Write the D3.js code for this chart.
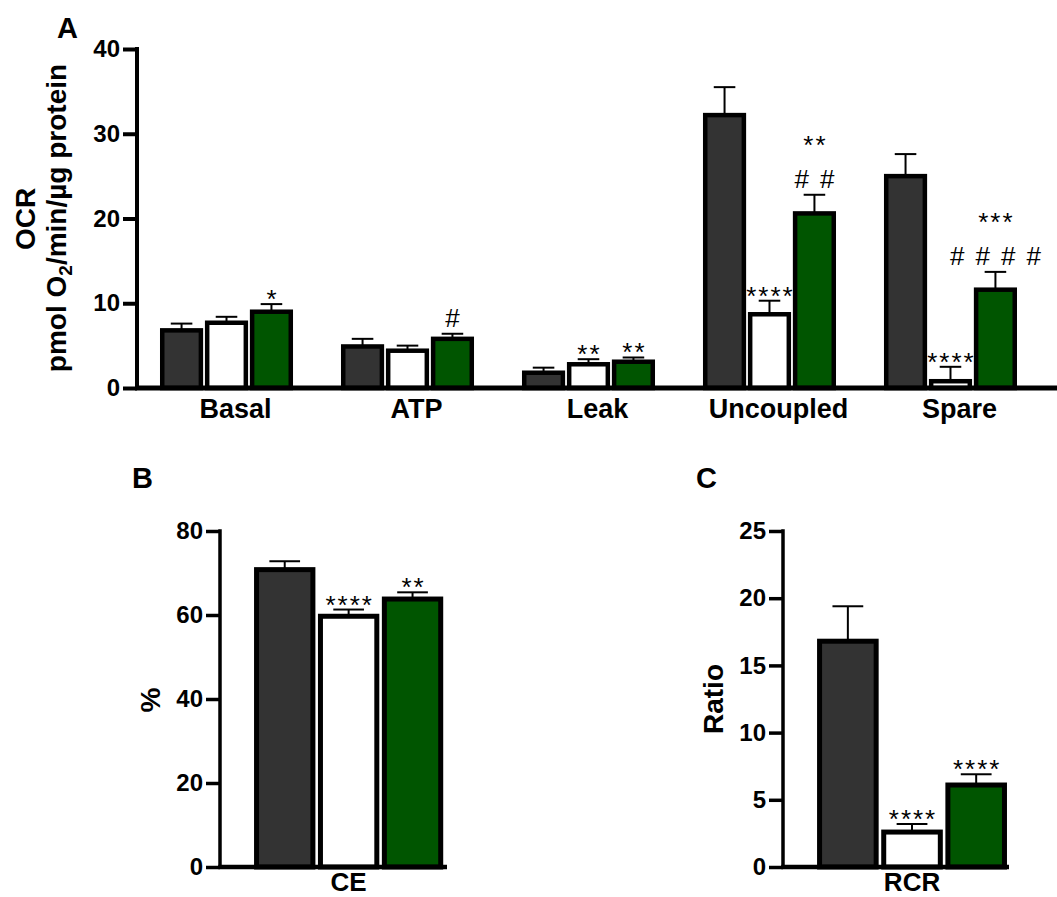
<!DOCTYPE html>
<html>
<head>
<meta charset="utf-8">
<script src="https://cdn.jsdelivr.net/npm/d3@7"></script>
<style>
  body { margin: 0; background: #fff; }
  svg { display: block; font-family: "Liberation Sans", Arial, sans-serif; }
</style>
</head>
<body>
<script>
// ---- data ----
var groupsA = ['Basal', 'ATP', 'Leak', 'Uncoupled', 'Spare'];
var meanDarkA = [6.8, 4.9, 1.8, 32.2, 25.0];
var meanWhiteA = [7.7, 4.4, 2.8, 8.7, 0.8];
var meanGreenA = [9.0, 5.8, 3.1, 20.6, 11.6];
var semDarkA = [0.8, 0.9, 0.6, 3.3, 2.6];
var semWhiteA = [0.7, 0.6, 0.6, 1.6, 1.7];
var semGreenA = [0.9, 0.6, 0.5, 2.2, 2.1];
var starsDarkA = ['', '', '', '', ''];
var starsWhiteA = ['', '', '**', '****', '****'];
var starsGreenA = ['*', '', '**', '**', '***'];
var hashGreenA = ['', '#', '', '##', '####'];
var ticksA = [0, 10, 20, 30, 40];

var groupsB = ['CE'];
var meanB = [70.8, 59.7, 63.8];
var semB = [2.0, 1.6, 1.6];
var starsB = ['', '****', '**'];
var ticksB = [0, 20, 40, 60, 80];

var groupsC = ['RCR'];
var meanC = [16.8, 2.6, 6.1];
var semC = [2.6, 0.6, 0.8];
var starsC = ['', '****', '****'];
var ticksC = [0, 5, 10, 15, 20, 25];

var FILLS = ['#333333', '#ffffff', '#005500'];

var WIDTH = 1057, HEIGHT = 897;
var svg = d3.select('body').append('svg').attr('width', WIDTH).attr('height', HEIGHT);

// rows of {group, series, mean, sem, stars, hash}
function buildRows(groups, means, sems, stars, hashes) {
    var rows = [];
    groups.forEach(function (g, gi) {
        means.forEach(function (m, si) {
            rows.push({
                group: g, series: si,
                mean: m[gi], sem: sems[si][gi],
                stars: stars[si][gi] || '',
                hash: hashes ? (hashes[si][gi] || '') : ''
            });
        });
    });
    return rows;
}

function drawPanel(opt) {
    var g = svg.append('g');
    var x0 = d3.scaleBand().domain(opt.groups).range(opt.xRange)
        .paddingInner(opt.padInner).paddingOuter(opt.padOuter).align(opt.align);
    var x1 = d3.scaleBand().domain([0, 1, 2]).range([0, x0.bandwidth()]).paddingInner(0.04);
    var y = d3.scaleLinear().domain(opt.yDomain).range(opt.yRange);

    // error bars (upper only)
    var err = g.append('g').attr('stroke', '#000').attr('stroke-width', 2);
    opt.rows.forEach(function (d) {
        var cx = x0(d.group) + x1(d.series) + x1.bandwidth() / 2;
        var capW = x1.bandwidth() / 4;
        err.append('line').attr('x1', cx).attr('x2', cx)
            .attr('y1', y(d.mean)).attr('y2', y(d.mean + d.sem));
        err.append('line').attr('x1', cx - capW).attr('x2', cx + capW)
            .attr('y1', y(d.mean + d.sem)).attr('y2', y(d.mean + d.sem));
    });

    // bars
    var sw = opt.barStroke;
    g.append('g').selectAll('rect').data(opt.rows).enter().append('rect')
        .attr('x', function (d) { return x0(d.group) + x1(d.series) + sw / 2; })
        .attr('width', x1.bandwidth() - sw)
        .attr('y', function (d) { return y(d.mean); })
        .attr('height', function (d) { return y(0) - y(d.mean); })
        .attr('fill', function (d) { return FILLS[d.series]; })
        .attr('stroke', '#000')
        .attr('stroke-width', sw);

    // significance marks
    var ann = g.append('g').attr('fill', '#000').attr('text-anchor', 'middle');
    opt.rows.forEach(function (d) {
        var cx = x0(d.group) + x1(d.series) + x1.bandwidth() / 2;
        var top = y(d.mean + d.sem);
        var starCenter = top - 11;
        if (d.hash) {
            var hashCenter = top - 16;
            ann.append('text').text(d.hash)
                .attr('x', cx + 5.5).attr('y', hashCenter + 9)
                .attr('font-size', 26).attr('letter-spacing', 11);
            starCenter = hashCenter - 40;
        }
        if (d.stars) {
            ann.append('text').text(d.stars)
                .attr('x', cx + 1).attr('y', starCenter + 15)
                .attr('font-size', 26).attr('letter-spacing', 2);
        }
    });

    // axes
    var yAxis = d3.axisLeft(y).tickValues(opt.ticks).tickSize(14).tickSizeOuter(0).tickPadding(3);
    var ya = g.append('g').attr('transform', 'translate(' + opt.xRange[0] + ',0)').call(yAxis);
    ya.selectAll('path, line').attr('stroke', '#000').attr('stroke-width', opt.axisStroke);
    ya.select('.domain').attr('d', 'M0,' + (y(opt.yDomain[1]) - opt.axisStroke / 2) + 'V' + y(0));
    ya.selectAll('text').attr('font-size', 24).attr('font-weight', 'bold').attr('fill', '#000');

    var xAxis = d3.axisBottom(x0).tickSize(0).tickPadding(opt.labelPad);
    var xa = g.append('g').attr('transform', 'translate(0,' + y(0) + ')').call(xAxis);
    xa.select('.domain').attr('stroke', '#000').attr('stroke-width', opt.axisStroke + 1)
        .attr('d', 'M' + (opt.xRange[0] - opt.axisStroke / 2) + ',0H' + opt.xRange[1]);
    xa.selectAll('text').attr('font-size', opt.labelSize).attr('font-weight', 'bold').attr('fill', '#000')
        .attr('dx', opt.labelDx);

    // panel letter
    svg.append('text').text(opt.letter).attr('x', opt.letterPos[0]).attr('y', opt.letterPos[1])
        .attr('font-size', 29).attr('font-weight', 'bold');

    return { g: g, y: y };
}

var rowsA = buildRows(groupsA, [meanDarkA, meanWhiteA, meanGreenA], [semDarkA, semWhiteA, semGreenA],
    [starsDarkA, starsWhiteA, starsGreenA], [['', '', '', '', ''], ['', '', '', '', ''], hashGreenA]);
drawPanel({
    groups: groupsA, rows: rowsA, ticks: ticksA,
    xRange: [137, 1057], padInner: 0.265, padOuter: 0.174, align: 0.365,
    yDomain: [0, 40], yRange: [388, 49],
    barStroke: 4.5, axisStroke: 4, labelDx: 9, labelPad: 11, labelSize: 27,
    letter: 'A', letterPos: [57, 38]
});

var rowsB = buildRows(groupsB, meanB.map(function (v) { return [v]; }), semB.map(function (v) { return [v]; }),
    starsB.map(function (v) { return [v]; }), null);
drawPanel({
    groups: groupsB, rows: rowsB, ticks: ticksB,
    xRange: [220, 447], padInner: 0, padOuter: 0.1, align: 0.9,
    yDomain: [0, 80], yRange: [867, 531],
    barStroke: 5, axisStroke: 3.5, labelDx: 0, labelPad: 6, labelSize: 26,
    letter: 'B', letterPos: [132, 488]
});

var rowsC = buildRows(groupsC, meanC.map(function (v) { return [v]; }), semC.map(function (v) { return [v]; }),
    starsC.map(function (v) { return [v]; }), null);
drawPanel({
    groups: groupsC, rows: rowsC, ticks: ticksC,
    xRange: [783, 1009], padInner: 0, padOuter: 0.095, align: 0.944,
    yDomain: [0, 25], yRange: [867, 531],
    barStroke: 5, axisStroke: 3.5, labelDx: 0, labelPad: 6, labelSize: 26,
    letter: 'C', letterPos: [696, 488]
});

// y axis titles
function yTitle(x, yc) {
    return svg.append('text').attr('transform', 'translate(' + x + ',' + yc + ') rotate(-90)')
        .attr('text-anchor', 'middle').attr('font-size', 28).attr('font-weight', 'bold');
}
yTitle(35, 219).text('OCR');
var t2 = yTitle(66, 218);
t2.append('tspan').text('pmol O');
t2.append('tspan').text('2').attr('font-size', 19).attr('dy', 6);
t2.append('tspan').text('/min/\u00b5g protein').attr('dy', -6);
yTitle(160, 700).text('%');
yTitle(723, 699).text('Ratio');
</script>
</body>
</html>
